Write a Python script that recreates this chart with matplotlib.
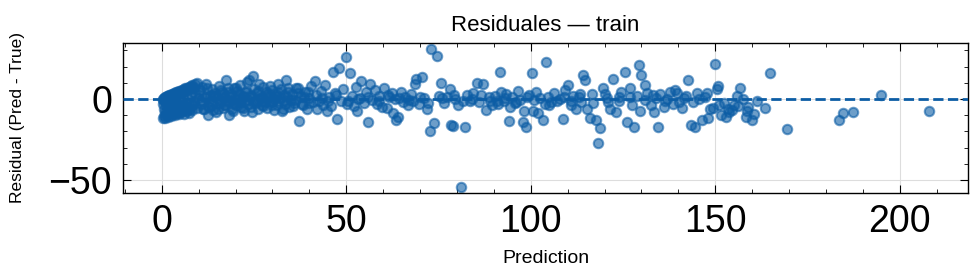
import numpy as np
import matplotlib
matplotlib.use("Agg")
import matplotlib.pyplot as plt
from matplotlib.ticker import MultipleLocator

BLUE = "#0C5DA5"

plt.rcParams.update({
    "font.family": ["Liberation Sans", "DejaVu Sans"],
    "axes.linewidth": 1.0,
    "xtick.direction": "in",
    "ytick.direction": "in",
    "xtick.top": True,
    "ytick.right": True,
    "xtick.major.size": 6,
    "ytick.major.size": 6,
    "xtick.minor.size": 3,
    "ytick.minor.size": 3,
    "xtick.minor.visible": True,
    "ytick.minor.visible": True,
})

# --- data (prediction, residual) ---
# x 0-10: streak where true ~ 0 (residual ~ prediction)
pred_streak = [0.2, 0.5, 0.8, 1.1, 1.4, 1.7, 2.0, 2.3, 2.7, 3.0, 3.4, 3.8, 4.2, 4.6, 5.0, 5.4,
               5.9, 6.3, 6.8, 7.3, 7.8, 8.3, 8.9, 9.5,
               0.4, 1.0, 1.6, 2.2, 2.9, 3.6, 4.4, 5.2, 6.0, 6.9, 7.8, 8.7]
resid_streak = [0.2, 0.6, 1.0, 1.3, 1.6, 2.0, 2.3, 2.6, 3.0, 3.3, 3.7, 4.0, 4.5, 4.8, 5.2, 5.6,
                6.0, 6.5, 6.9, 7.4, 7.9, 8.4, 9.0, 9.6,
                -0.5, 0.2, 0.8, 1.3, 1.9, 2.6, 3.2, 3.9, 4.6, 5.3, 6.0, 6.8]
# x 0-10: lower band and middle fill
pred_low = [0.2, 0.5, 0.9, 1.2, 1.6, 2.0, 2.5, 3.0, 3.5, 4.0, 4.6, 5.2, 6.0, 6.8, 7.5, 8.2,
            0.3, 0.6, 0.9, 1.2, 1.5, 1.9, 2.2, 2.5, 2.8, 3.1, 3.5, 3.9, 4.2, 4.6, 5.0, 5.4,
            5.8, 6.2, 6.6, 7.0, 7.4, 7.9, 8.3, 8.7, 9.1, 9.6, 9.9, 0.8, 1.8, 2.7, 3.7, 4.7,
            5.7, 6.7, 7.7, 8.7]
resid_low = [-11.5, -10.8, -12.0, -10.0, -11.0, -9.5, -10.5, -9.0, -10.0, -8.5, -9.5, -8.0,
             -9.0, -7.5, -8.5, -7.0,
             -3.0, -6.0, -1.5, -4.0, -7.0, -2.0, -5.0, -0.5, -6.5, -3.0, -1.0, -5.5, -2.5,
             0.5, -4.5, -1.5, 1.5, -3.5, -6.0, 0.0, -2.5, 2.5, -4.0, -1.0, 3.0, -5.5, 0.5,
             -8.0, -8.5, -7.5, -7.0, -6.5, -7.0, -5.0, -6.0, -3.0]
# x 10-40
pred_a = [10.2, 10.6, 11.0, 11.3, 11.7, 12.1, 12.4, 12.6, 13.0, 13.3, 13.7, 14.0, 14.4, 14.7,
          15.1, 15.5, 15.8, 16.2, 16.5, 16.9, 17.2, 17.5, 17.9, 18.2, 18.4, 18.8, 19.1, 19.5,
          19.8, 20.2, 20.5, 20.9, 21.2, 21.6, 21.9, 22.3, 22.6, 23.0, 23.3, 23.6, 24.0, 24.3,
          24.5, 24.7, 25.0, 25.4, 25.7, 26.1, 26.4, 26.8, 27.1, 27.5, 27.8, 28.2, 28.5, 28.9,
          29.2, 29.6, 29.9, 30.3, 30.5, 30.9, 31.2, 31.6, 31.9, 32.3, 32.6, 33.0, 33.4, 33.8,
          34.1, 34.5,
          10.8, 11.9, 12.9, 13.9, 14.9, 15.9, 16.8, 17.7, 18.6, 19.6, 20.6, 21.5, 22.4, 23.4,
          24.2, 25.2, 26.2, 27.2, 28.0, 29.0, 30.0, 31.0, 32.0, 33.1, 34.0, 35.0,
          10.4, 11.5, 12.3, 13.5, 14.2, 15.3, 16.0, 17.0, 18.0, 19.3, 20.0, 21.0, 22.0, 23.2,
          24.8, 26.0, 27.3, 28.7, 29.8, 31.5, 32.8, 34.3, 35.5, 36.8, 38.0, 39.5]
resid_a = [4.5, -3.0, 7.5, -6.0, 1.5, 9.0, -4.5, -9.9, 2.5, -1.5, 6.0, -7.0, 3.5, -8.2, 0.5,
           8.0, -2.5, 4.0, -5.5, 1.0, -3.5, 11.7, 6.5, -9.9, -1.0, 3.0, -6.5, 7.0, 0.0, -4.0,
           5.0, -2.0, 8.5, -5.0, 2.0, -7.5, 4.5, 10.6, -3.0, 11.7, 1.5, -4.7, -8.0, 14.2, 6.0,
           -2.5, 3.5, -6.0, 9.0, 0.5, -3.5, 7.5, -1.0, 4.5, -5.5, 2.0, 8.0, -2.0, 5.5, -6.8,
           0.0, 3.0, -4.0, 9.5, -1.5, 6.0, -7.5, 2.5, -3.0, 11.7, 4.0, -5.0,
           -1.5, 0.5, -5.0, 2.0, -2.5, -0.5, 3.0, -1.0, 1.5, -3.0, 0.5, -2.0, 1.0, -0.5, 2.5,
           -1.5, 0.0, 1.5, -2.0, 1.0, -1.0, 2.0, 0.5, -1.5, 1.0, -0.5,
           5.5, -6.5, 7.0, -3.5, 2.5, -6.0, 5.5, -4.0, 4.0, -7.5, 6.5, 3.0, -5.5, 4.5, -2.0,
           5.0, -4.5, 3.5, -3.5, 4.0, -6.0, 6.5, -4.5, 3.5, -3.0, 4.5]
# x 35-90
pred_b = [35.3, 35.8, 36.4, 37.0, 37.2, 37.8, 38.3, 38.9, 39.3, 39.8, 40.4, 40.9, 41.4, 41.9,
          42.0, 42.6, 43.1, 43.7, 44.2, 44.7, 45.3, 45.8, 46.4, 46.9, 47.5, 48.0, 48.6, 49.1,
          49.9, 50.3, 51.0, 51.5, 52.0, 52.6, 53.0, 53.6, 54.0, 54.7, 55.3, 55.9, 56.5, 57.1,
          57.8, 58.4, 59.0, 59.7, 60.3, 61.0, 61.6, 62.3, 62.6, 63.2, 63.6, 64.0, 64.7, 65.4,
          66.0, 66.8, 67.5, 68.2, 68.6, 69.0, 69.8, 70.4, 71.1, 71.8, 72.6, 73.0, 73.7, 74.5,
          75.2, 75.8, 76.5, 77.2, 78.0, 78.5, 78.9, 79.6, 80.4, 81.0, 82.1, 82.8, 83.6, 84.4,
          85.3, 86.0, 87.0, 87.8, 88.6, 89.4,
          36.0, 38.6, 40.0, 43.4, 45.0, 47.2, 50.6, 53.3, 56.0, 58.8, 61.3, 64.4, 67.1, 70.0,
          72.2, 76.0, 79.2, 81.6, 84.0, 86.6, 89.0]
resid_b = [3.0, -2.5, 6.5, 7.0, -13.4, 1.0, -4.0, 4.5, -6.5, 0.5, 8.0, -2.0, 11.0, 2.5, -6.5,
           -1.0, 5.0, -3.5, 8.5, -7.5, 1.5, -4.5, 16.9, 3.5, -12.3, 18.9, -1.5, 6.0, 26.1,
           -3.0, 15.8, 2.0, -4.4, 7.5, -7.5, 0.5, 11.0, -2.5, 4.0, -14.0, 9.0, -0.5, 5.5,
           -3.0, 2.0, -5.0, 6.5, -5.5, 1.0, 3.5, -8.5, 0.0, -13.0, -11.0, 4.5, -2.0, 1.5,
           -4.0, 3.0, -1.5, 9.0, 12.6, -3.0, 13.8, 0.5, -6.0, -20.0, 30.5, -15.0, 26.5, 2.0,
           9.7, -2.5, 1.0, 6.0, -16.0, -16.7, 0.0, -4.0, -54.0, -17.5, 2.5, -1.5, 3.5, 9.7,
           -2.0, 9.0, -6.8, 1.0, -3.5,
           -0.5, 1.5, -2.5, 0.5, -1.0, 2.5, -1.5, 0.0, 1.5, -1.0, 2.5, 0.5, -0.5, 1.5, -2.5,
           0.5, 2.5, -1.5, 0.0, 2.5, -1.0]
# x 90-170
pred_c = [90.2, 91.0, 91.6, 92.0, 92.7, 93.4, 94.1, 94.3, 95.0, 95.7, 96.5, 97.2, 97.8, 98.3,
          98.8, 99.5, 100.4, 100.6, 101.5, 102.0, 102.6, 103.4, 103.8, 104.2, 104.8, 105.5,
          106.3, 107.0, 107.8, 108.6, 109.3, 110.0, 110.8, 111.5, 112.3, 113.0, 113.6, 114.2,
          114.6, 115.2, 116.0, 116.7, 117.8, 118.3, 118.8, 119.5, 120.2, 121.0, 121.6, 122.3,
          123.0, 123.8, 124.5, 125.5, 126.0, 126.8, 127.5, 128.0, 128.8, 129.4, 129.6, 130.0,
          130.9, 131.6, 132.5, 133.3, 134.0, 134.5, 135.0, 136.0, 137.0, 137.8, 139.0, 139.5,
          140.3, 141.0, 142.0, 142.6, 143.5, 144.4, 145.0, 145.5, 146.3, 147.2, 148.0, 148.6,
          149.5, 149.9, 150.4, 150.7, 151.5, 152.3, 153.0, 153.8, 154.5, 155.0, 155.8, 156.8,
          157.4, 158.2, 159.0, 160.0, 161.2, 163.4, 164.8, 169.5,
          90.8, 93.0, 96.0, 99.0, 101.0, 105.0, 109.0, 111.0, 113.3, 117.0, 120.6, 124.0,
          127.0, 131.0, 133.0, 136.5, 138.5, 141.5, 144.0, 147.8, 151.0, 153.5, 156.2, 158.6,
          160.5]
resid_c = [2.0, -3.0, 16.9, 4.0, -1.0, 3.0, -13.6, -5.0, 1.4, -2.5, 5.0, -0.5, -14.0, -7.4,
           -17.5, 2.5, 16.3, -7.5, 4.5, -8.8, 0.5, -13.0, -3.0, 23.0, 1.5, -2.0, 3.5, -1.0,
           0.0, -12.6, 5.5, 8.6, -3.5, 2.0, -6.0, 1.0, -2.0, 14.8, 11.7, -6.4, -12.0, 3.0,
           -13.0, -27.4, -18.0, 7.0, 3.0, -2.0, -6.0, 12.2, -8.0, 1.5, 4.0, 16.9, -14.0, 7.0,
           -3.5, -17.0, 2.0, 21.0, -7.3, 14.8, 8.6, 3.7, -4.0, -8.0, 0.5, -17.0, 3.0, -5.0,
           0.0, 4.0, 5.6, 3.5, -2.0, -5.5, 2.0, 11.7, -16.0, -17.5, 3.7, 0.0, -13.0, 1.5,
           -12.0, -6.0, -5.7, 21.6, 6.0, 8.0, -10.0, -2.5, -11.0, -8.0, -7.0, -3.5, 2.0, 6.6,
           0.0, -11.0, -5.0, -13.0, -1.0, -5.7, 16.3, -18.7,
           -1.5, 0.5, -2.0, 1.0, -0.5, -3.5, 1.0, -1.0, 3.0, -2.5, 0.5, -1.5, 1.5, -0.5, 2.5,
           -1.0, -3.0, 0.5, -2.0, 3.5, -4.0, -6.0, -4.5, -7.5, -9.0]
# tail
pred_tail = [183.6, 184.5, 187.3, 195.0, 208.0]
resid_tail = [-13.0, -8.4, -8.2, 2.5, -7.4]

pred = np.array(pred_streak + pred_low + pred_a + pred_b + pred_c + pred_tail)
resid = np.array(resid_streak + resid_low + resid_a + resid_b + resid_c + resid_tail)

fig = plt.figure(figsize=(9.78, 2.78), dpi=100)
ax = fig.add_axes([0.1258, 0.3058, 0.8640, 0.5395])

ax.scatter(pred, resid, s=46, color=BLUE, alpha=0.6, edgecolors=BLUE, linewidths=1.5, zorder=2)
ax.axhline(0, color=BLUE, ls="--", lw=2, zorder=3)

ax.set_xlim(-10.5, 218.5)
ax.set_ylim(-58, 34.5)
ax.xaxis.set_major_locator(MultipleLocator(50))
ax.xaxis.set_minor_locator(MultipleLocator(10))
ax.yaxis.set_major_locator(MultipleLocator(50))
ax.yaxis.set_minor_locator(MultipleLocator(10))
ax.grid(True, which="major", color="#dddddd", lw=0.8)
ax.set_axisbelow(True)
ax.tick_params(labelsize=27, pad=8)

ax.set_title("Residuales — train", fontsize=16, pad=9)
ax.set_xlabel("Prediction", fontsize=14, labelpad=7)
ax.set_ylabel("Residual (Pred - True)", fontsize=12.5)
ax.yaxis.set_label_coords(-0.116, 0.5)

fig.savefig("out.png", dpi=100)
